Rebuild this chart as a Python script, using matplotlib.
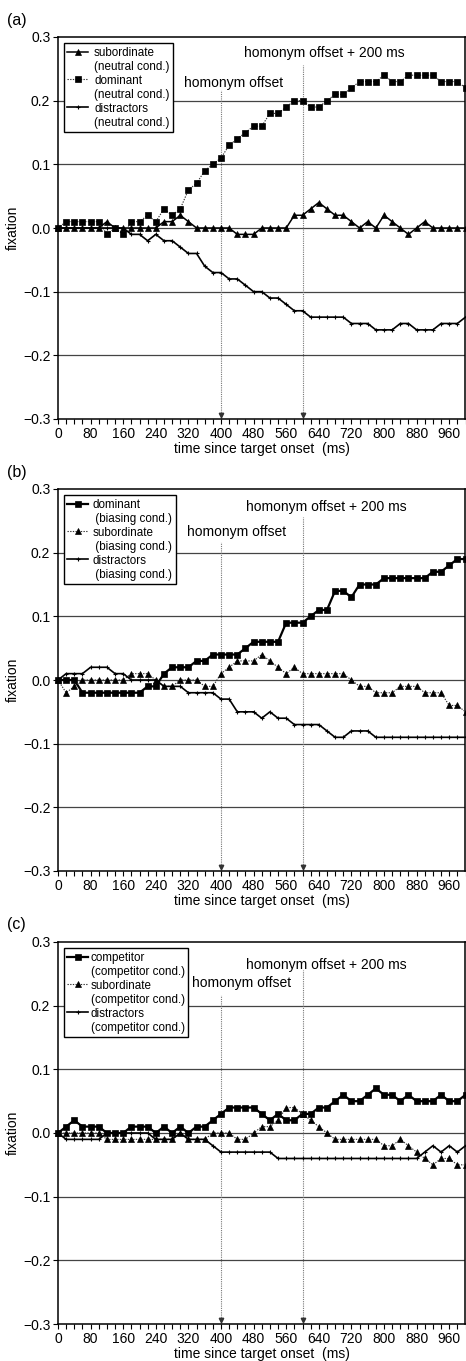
import matplotlib
matplotlib.use("Agg")
import matplotlib.pyplot as plt
from matplotlib.lines import Line2D

plt.rcParams['font.family'] = ['Liberation Sans', 'DejaVu Sans']

# time axis (ms), one sample every 20 ms
times = list(range(0, 1001, 20))
x_tick_labels = ['0', '80', '160', '240', '320', '400', '480', '560', '640', '720', '800', '880', '960']
y_ticks = [-0.3, -0.2, -0.1, 0.0, 0.1, 0.2, 0.3]
y_tick_labels = ['\u22120.3', '\u22120.2', '\u22120.1', '0.0', '0.1', '0.2', '0.3']

# (a) neutral condition
sub_a = [0, 0, 0, 0, 0, 0, 0.01, 0, 0, 0, 0, 0, 0, 0.01, 0.01, 0.02, 0.01, 0, 0, 0, 0, 0,
         -0.01, -0.01, -0.01, 0, 0, 0, 0, 0.02, 0.02, 0.03, 0.04, 0.03, 0.02, 0.02, 0.01, 0,
         0.01, 0, 0.02, 0.01, 0, -0.01, 0, 0.01, 0, 0, 0, 0, 0]
dom_a = [0, 0.01, 0.01, 0.01, 0.01, 0.01, -0.01, 0, -0.01, 0.01, 0.01, 0.02, 0.01, 0.03, 0.02,
         0.03, 0.06, 0.07, 0.09, 0.10, 0.11, 0.13, 0.14, 0.15, 0.16, 0.16, 0.18, 0.18, 0.19,
         0.20, 0.20, 0.19, 0.19, 0.20, 0.21, 0.21, 0.22, 0.23, 0.23, 0.23, 0.24, 0.23, 0.23,
         0.24, 0.24, 0.24, 0.24, 0.23, 0.23, 0.23, 0.22]
dis_a = [0, 0, 0, 0, 0, 0, 0, 0, 0, -0.01, -0.01, -0.02, -0.01, -0.02, -0.02, -0.03, -0.04,
         -0.04, -0.06, -0.07, -0.07, -0.08, -0.08, -0.09, -0.10, -0.10, -0.11, -0.11, -0.12,
         -0.13, -0.13, -0.14, -0.14, -0.14, -0.14, -0.14, -0.15, -0.15, -0.15, -0.16, -0.16,
         -0.16, -0.15, -0.15, -0.16, -0.16, -0.16, -0.15, -0.15, -0.15, -0.14]

# (b) biasing condition
dom_b = [0, 0, 0, -0.02, -0.02, -0.02, -0.02, -0.02, -0.02, -0.02, -0.02, -0.01, -0.01, 0.01,
         0.02, 0.02, 0.02, 0.03, 0.03, 0.04, 0.04, 0.04, 0.04, 0.05, 0.06, 0.06, 0.06, 0.06,
         0.09, 0.09, 0.09, 0.10, 0.11, 0.11, 0.14, 0.14, 0.13, 0.15, 0.15, 0.15, 0.16, 0.16,
         0.16, 0.16, 0.16, 0.16, 0.17, 0.17, 0.18, 0.19, 0.19]
sub_b = [0, -0.02, -0.01, 0, 0, 0, 0, 0, 0, 0.01, 0.01, 0.01, 0, -0.01, -0.01, 0, 0, 0,
         -0.01, -0.01, 0.01, 0.02, 0.03, 0.03, 0.03, 0.04, 0.03, 0.02, 0.01, 0.02, 0.01, 0.01,
         0.01, 0.01, 0.01, 0.01, 0, -0.01, -0.01, -0.02, -0.02, -0.02, -0.01, -0.01, -0.01,
         -0.02, -0.02, -0.02, -0.04, -0.04, -0.05]
dis_b = [0, 0.01, 0.01, 0.01, 0.02, 0.02, 0.02, 0.01, 0.01, 0, 0, 0, 0, -0.01, -0.01, -0.01,
         -0.02, -0.02, -0.02, -0.02, -0.03, -0.03, -0.05, -0.05, -0.05, -0.06, -0.05, -0.06,
         -0.06, -0.07, -0.07, -0.07, -0.07, -0.08, -0.09, -0.09, -0.08, -0.08, -0.08, -0.09,
         -0.09, -0.09, -0.09, -0.09, -0.09, -0.09, -0.09, -0.09, -0.09, -0.09, -0.09]

# (c) competitor condition
comp_c = [0, 0.01, 0.02, 0.01, 0.01, 0.01, 0, 0, 0, 0.01, 0.01, 0.01, 0, 0.01, 0, 0.01, 0,
          0.01, 0.01, 0.02, 0.03, 0.04, 0.04, 0.04, 0.04, 0.03, 0.02, 0.03, 0.02, 0.02, 0.03,
          0.03, 0.04, 0.04, 0.05, 0.06, 0.05, 0.05, 0.06, 0.07, 0.06, 0.06, 0.05, 0.06, 0.05,
          0.05, 0.05, 0.06, 0.05, 0.05, 0.06]
sub_c = [0, 0, 0, 0, 0, 0, -0.01, -0.01, -0.01, -0.01, -0.01, -0.01, -0.01, -0.01, -0.01, 0,
         -0.01, -0.01, -0.01, 0, 0, 0, -0.01, -0.01, 0, 0.01, 0.01, 0.02, 0.04, 0.04, 0.03,
         0.02, 0.01, 0, -0.01, -0.01, -0.01, -0.01, -0.01, -0.01, -0.02, -0.02, -0.01, -0.02,
         -0.03, -0.04, -0.05, -0.04, -0.04, -0.05, -0.05]
dis_c = [0, -0.01, -0.01, -0.01, -0.01, -0.01, 0, 0, 0, 0, 0, 0, -0.01, -0.01, -0.01, 0,
         -0.01, -0.01, -0.01, -0.02, -0.03, -0.03, -0.03, -0.03, -0.03, -0.03, -0.03, -0.04,
         -0.04, -0.04, -0.04, -0.04, -0.04, -0.04, -0.04, -0.04, -0.04, -0.04, -0.04, -0.04,
         -0.04, -0.04, -0.04, -0.04, -0.04, -0.03, -0.02, -0.03, -0.02, -0.03, -0.02]

offset_times = [400, 600]
offset_tops = [0.216, 0.256]

# style keys: 'thin' solid+triangle, 'dot' dotted+marker, 'bold' thick solid+square, 'dis' distractors
panels = [
    dict(tag='(a)', series=[(sub_a, 'thin', '^', ['subordinate', '(neutral cond.)']),
                            (dom_a, 'dot', 's', ['dominant', '(neutral cond.)']),
                            (dis_a, 'dis', '+', ['distractors', '(neutral cond.)'])],
         txt1=(432, 0.227), txt2=(653, 0.275), tpad=0.5),
    dict(tag='(b)', series=[(dom_b, 'bold', 's', ['dominant', ' (biasing cond.)']),
                            (sub_b, 'dot', '^', ['subordinate', ' (biasing cond.)']),
                            (dis_b, 'dis', '+', ['distractors', ' (biasing cond.)'])],
         txt1=(437, 0.233), txt2=(658, 0.272), tpad=0.35),
    dict(tag='(c)', series=[(comp_c, 'bold', 's', ['competitor', '(competitor cond.)']),
                            (sub_c, 'dot', '^', ['subordinate', '(competitor cond.)']),
                            (dis_c, 'dis', '+', ['distractors', '(competitor cond.)'])],
         txt1=(451, 0.235), txt2=(659, 0.264), tpad=0.2),
]

styles = {
    'thin': dict(color='black', lw=1.1, ls='-', ms=4.2),
    'dot': dict(color='#333333', lw=0.8, ls=(0, (1.2, 1.2)), ms=4.0),
    'bold': dict(color='black', lw=1.6, ls='-', ms=3.8),
    'dis': dict(color='black', lw=1.2, ls='-', ms=2.6),
}

W, H = 466, 1361
tops = [37, 489, 942]
ax_h = 382

fig = plt.figure(figsize=(W / 100, H / 100), dpi=100)

for p, top in zip(panels, tops):
    ax = fig.add_axes([58 / W, 1 - (top + ax_h) / H, 407.5 / W, ax_h / H])
    ax.set_xlim(0, 1000)
    ax.set_ylim(-0.3, 0.3)

    for yv in y_ticks[1:-1]:
        ax.axhline(yv, color='#444444', lw=0.9, zorder=1)

    for t, top_y in zip(offset_times, offset_tops):
        ax.plot([t, t], [-0.3, top_y], color='#777777', lw=0.8, ls=(0, (1, 1)), zorder=1)
        ax.plot(t, -0.3 + 0.006, marker='v', color='#333333', ms=3.2, zorder=2, clip_on=False)

    handles = []
    labels = []
    for vals, st, mk, lab in p['series']:
        s = styles[st]
        mew = 0.8 if mk == '+' else 0.5
        ax.plot(times, vals, color=s['color'], lw=s['lw'], ls=s['ls'], marker=mk,
                ms=s['ms'], mfc='black', mec='black', mew=mew, zorder=3, clip_on=False)
        handles.append(Line2D([], [], color=s['color'], lw=s['lw'], ls=s['ls'], marker=mk,
                              ms=s['ms'], mfc='black', mec='black', mew=mew))
        labels.append(lab[0])
        handles.append(Line2D([], [], ls='none', marker=None))
        labels.append(lab[1])

    leg = ax.legend(handles, labels, loc='upper left', bbox_to_anchor=(0.014, 0.984),
                    borderaxespad=0, fontsize=8.4, frameon=True, fancybox=False,
                    framealpha=1, edgecolor='black', handlelength=1.8,
                    handletextpad=p['tpad'], labelspacing=0.17, borderpad=0.3)
    leg.get_frame().set_linewidth(1.0)
    leg.set_zorder(5)

    ax.text(p['txt1'][0], p['txt1'][1], 'homonym offset', ha='center', va='center', fontsize=10)
    ax.text(p['txt2'][0], p['txt2'][1], 'homonym offset + 200 ms', ha='center', va='center',
            fontsize=10)

    ax.set_xticks(list(range(0, 961, 80)))
    ax.set_xticklabels(x_tick_labels, fontsize=10)
    ax.set_xticks(times, minor=True)
    ax.set_yticks(y_ticks)
    ax.set_yticklabels(y_tick_labels, fontsize=10)
    ax.tick_params(axis='both', which='both', direction='out', length=3.5, width=0.8,
                   color='black', pad=2)
    ax.tick_params(axis='x', which='both', top=False)
    ax.tick_params(axis='y', which='both', right=False)
    for sp in ax.spines.values():
        sp.set_linewidth(1.1)
        sp.set_color('black')

    ax.set_xlabel('time since target onset  (ms)', fontsize=10, labelpad=1)
    ax.set_ylabel('fixation', fontsize=10, labelpad=2)

    fig.text(7 / W, 1 - (top - 17) / H, p['tag'], fontsize=11.5, ha='left', va='center')

fig.savefig('out.png', dpi=100)
